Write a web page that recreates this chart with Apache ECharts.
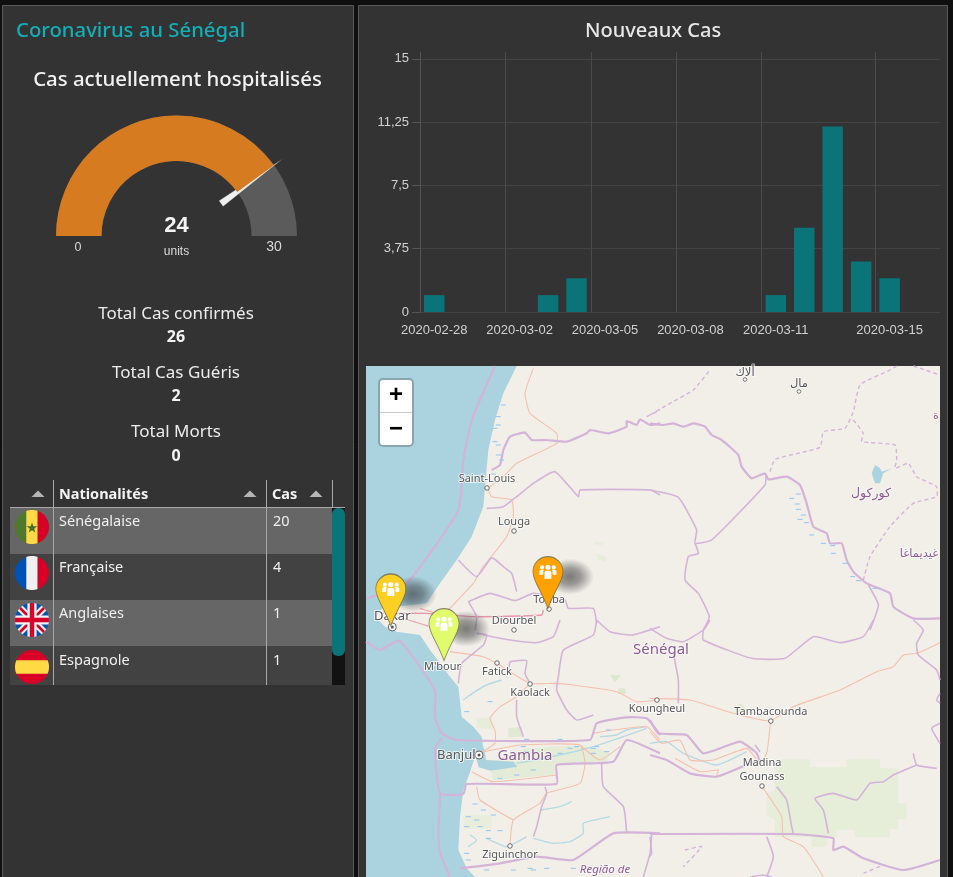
<!DOCTYPE html>
<html><head><meta charset="utf-8">
<style>html,body{margin:0;padding:0;background:#0f0f0f;overflow:hidden}#c{width:953px;height:877px}</style>
<script src="https://cdn.jsdelivr.net/npm/echarts@6/dist/echarts.min.js"></script>
</head><body><div id="c"></div>
<script>
// ---------- data ----------
const dates = ['2020-02-28','2020-02-29','2020-03-01','2020-03-02','2020-03-03','2020-03-04','2020-03-05','2020-03-06','2020-03-07','2020-03-08','2020-03-09','2020-03-10','2020-03-11','2020-03-12','2020-03-13','2020-03-14','2020-03-15','2020-03-16'];
const newCases = [1,0,0,0,1,2,0,0,0,0,0,0,1,5,11,3,2,0];
const yTicks = [0,3.75,7.5,11.25,15];
const xLabelIdx = [0,3,6,9,12,16];
const gaugeValue = 24, gaugeMax = 30;
const totals = [['Total Cas confirmés','26'],['Total Cas Guéris','2'],['Total Morts','0']];
const nationalities = ['Sénégalaise','Française','Anglaises','Espagnole'];
const nationalityCases = ['20','4','1','1'];
const cityNames = ['Saint-Louis','Louga','Touba','Dakar','Diourbel','Fatick','Kaolack','Koungheul','Tambacounda','Banjul','Madina\nGounass','Ziguinchor'];
const cityLon = [-16.497,-16.228,-15.879,-17.44,-16.228,-16.397,-16.068,-14.804,-13.67,-16.576,-13.758,-16.268];
const cityLat = [16.053,15.631,14.866,14.69,14.661,14.337,14.131,13.974,13.768,13.435,13.131,12.543];
const cityLabelPos = ['top','top','top','top','top','bottom','bottom','bottom','top','left','top','bottom'];
const capitals = ['Dakar','Banjul'];
const pinLon = [-17.455,-16.925,-15.89];
const pinLat = [14.70,14.36,14.87];
const pinColors = ['#fdcf22','#e0fb6c','#ffa200'];

// ---------- helpers ----------
const UI = '"Noto Sans","Open Sans",sans-serif';
const g = [];
function txt(x,y,s,size,fill,align,weight,font,extra){
  g.push(Object.assign({type:'text',silent:true,z:5,style:{x,y,text:s,fontSize:size,fill,align:align||'left',verticalAlign:'middle',fontWeight:weight||'normal',fontFamily:font||UI}},extra||{}));
}
function rect(x,y,w,h,fill,z,r,stroke,lw){
  g.push({type:'rect',silent:true,z:z,shape:{x,y,width:w,height:h,r:r||0},style:{fill,stroke:stroke||null,lineWidth:lw||0}});
}
function line(x1,y1,x2,y2,c,z,lw){
  g.push({type:'line',silent:true,z:z||3,shape:{x1,y1,x2,y2},style:{stroke:c,lineWidth:lw||1}});
}
function poly(points,fill,z){g.push({type:'polygon',silent:true,z:z,shape:{points},style:{fill}});}
function circPts(cx,cy,r){const a=[];for(let i=0;i<72;i++){const t=i/72*2*Math.PI;a.push([cx+r*Math.cos(t),cy+r*Math.sin(t)]);}return a;}
function clip(subject,conv){
  let out=subject;
  let area=0;for(let i=0;i<conv.length;i++){const p=conv[i],q=conv[(i+1)%conv.length];area+=p[0]*q[1]-q[0]*p[1];}
  const sgn=area>0?1:-1;
  for(let i=0;i<conv.length;i++){
    const a=conv[i],b=conv[(i+1)%conv.length];const input=out;out=[];
    const side=p=>sgn*((b[0]-a[0])*(p[1]-a[1])-(b[1]-a[1])*(p[0]-a[0]));
    for(let j=0;j<input.length;j++){
      const c=input[j],d=input[(j+1)%input.length];const sc=side(c),sd=side(d);
      if(sc>=0)out.push(c);
      if((sc>=0)!==(sd>=0)){const t=sc/(sc-sd);out.push([c[0]+t*(d[0]-c[0]),c[1]+t*(d[1]-c[1])]);}
    }
  }
  return out;
}
function piece(cx,cy,r,localPts,fill){
  const c=clip(circPts(cx,cy,r),localPts.map(p=>[cx+p[0],cy+p[1]]));
  if(c.length>2)poly(c,fill,4);
}
const box=(a,b,c,d)=>[[a,c],[b,c],[b,d],[a,d]];
function diag(w,flip){const s=flip?-1:1;const k=w*0.707;return [[-20*s-k*s,-20+k],[-20*s+k*s,-20-k],[20*s+k*s,20-k],[20*s-k*s,20+k]];}

// ---------- panels ----------
rect(2.5,5.5,351,890,'#333333',-10,0,'#5a5a5a',1);
rect(358.5,5.5,589,890,'#333333',-10,0,'#5a5a5a',1);

txt(16,31,'Coronavirus au Sénégal',20.3,'#13aeb6','left','500');
txt(177.5,80.5,'Cas actuellement hospitalisés',20.4,'#f2f2f2','center','500');
txt(653,31,'Nouveaux Cas',20,'#e8e8e8','center','500');
txt(78,248,'0',12.5,'#d8d8d8','center','normal','"Liberation Sans"');
txt(274,247,'30',14,'#d8d8d8','center','normal','"Liberation Sans"');
const totalY=[[314,337],[373,396],[432,456]];
totals.forEach((t,i)=>{
  txt(176,totalY[i][0],t[0],17,'#ececec','center');
  txt(176,totalY[i][1],t[1],16,'#f4f4f4','center','bold');
});

// ---------- table ----------
const rowTop=[508,554,600,646], rowH=[46,46,46,39], rowTxt=[522,568,614,661], rowFill=['#666666','#424242','#666666','#424242'];
rowTop.forEach((y,i)=>{
  rect(10,y,322,rowH[i],rowFill[i],1);
  txt(59,rowTxt[i],nationalities[i],14.5,'#f0f0f0');
  txt(273,rowTxt[i],nationalityCases[i],14.5,'#f0f0f0');
});
rect(332,508,13,177,'#121212',1);
rect(332,508,13,148,'#0b7479',2,6);
line(10,507.5,345,507.5,'#a8a8a8',3);
line(53.5,480,53.5,685,'#a8a8a8',3);
line(266.5,480,266.5,685,'#a8a8a8',3);
line(332.5,480,332.5,507,'#a8a8a8',3);
txt(59,495,'Nationalités',14.5,'#f4f4f4','left','bold');
txt(272,495,'Cas',14.5,'#f4f4f4','left','bold');
[38,250,316].forEach(x=>poly([[x-6.5,497],[x+6.5,497],[x,490.5]],'#b5b5b5',4));

// flags
(function(){
  const R=17,X=32;
  let y=527;
  piece(X,y,R,box(-20,-5.7,-20,20),'#4f7a2d');
  piece(X,y,R,box(-5.7,5.7,-20,20),'#ffda44');
  piece(X,y,R,box(5.7,20,-20,20),'#d80027');
  const star=[];for(let i=0;i<10;i++){const r=i%2?2.3:5.6,t=-Math.PI/2+i*Math.PI/5;star.push([X+r*Math.cos(t),y+1+r*Math.sin(t)]);}
  poly(star,'#496e2d',5);
  y=573;
  piece(X,y,R,box(-20,-5.7,-20,20),'#0052b4');
  piece(X,y,R,box(-5.7,5.7,-20,20),'#f0f0f0');
  piece(X,y,R,box(5.7,20,-20,20),'#d80027');
  y=620;
  piece(X,y,R,box(-20,20,-20,20),'#0052b4');
  piece(X,y,R,diag(3.4,false),'#f0f0f0');
  piece(X,y,R,diag(3.4,true),'#f0f0f0');
  piece(X,y,R,diag(1.3,false),'#d80027');
  piece(X,y,R,diag(1.3,true),'#d80027');
  piece(X,y,R,box(-20,20,-4.6,4.6),'#f0f0f0');
  piece(X,y,R,box(-4.6,4.6,-20,20),'#f0f0f0');
  piece(X,y,R,box(-20,20,-2.2,2.2),'#d80027');
  piece(X,y,R,box(-2.2,2.2,-20,20),'#d80027');
  y=667;
  piece(X,y,R,box(-20,20,-20,20),'#d80027');
  piece(X,y,R,box(-20,20,-6.7,6.7),'#ffda44');
})();

// ---------- base map (background drawing) ----------
const T4=[360,360],T5=[650,360],T6=[360,620],T7=[650,620];
function P(t,f){const a=[];for(let i=0;i<f.length;i+=2)a.push([t[0]+f[i]/3,t[1]+f[i+1]/3]);return a;}
function clampMap(a){return a.map(p=>[Math.min(940,Math.max(366,p[0])),Math.min(877,Math.max(366,p[1]))]);}
function L(t,f,c,w,dash,z){g.push({type:'polyline',silent:true,z:z||-6,shape:{points:clampMap(P(t,f)),smooth:0.15},style:{stroke:c,lineWidth:w,fill:null,lineDash:dash||null,lineJoin:'round'}});}
rect(366,366,574,511,'#f2efe9',-9);
const sea=[[366,366]].concat(P(T4,[470,18,430,100,405,180,385,270,375,380,370,440,335,530,290,600,240,670,200,730,130,738,70,742,45,770]),P(T6,[75,20,110,35,180,45,210,90,270,170,295,200,305,290,340,320,365,350,370,385,345,410,335,440,325,470,310,510,300,590,295,690,320,745,345,771]),[[366,877]]);
poly(sea,'#aad3df',-8);
poly(P(T6,[345,400,372,382,378,420,460,425,472,440,392,452,356,442]),'#aad3df',-7);
poly(P(T5,[665,340,675,315,690,325,695,335,725,325,700,340,690,370,675,370]),'#aad3df',-7);
const GR='#e6edd9';
poly(P(T7,[375,418,480,418,480,440,590,440,590,418,690,418,690,445,745,445,745,550,770,550,770,598,745,598,745,628,720,628,720,652,615,652,615,630,560,630,560,652,530,652,530,680,485,680,485,650,375,650,375,600,350,585,350,520,375,510]),GR,-8);
poly(P(T6,[385,430,500,385,660,375,750,395,740,425,590,430,580,465,400,480]),'#e4ebd7',-8);
poly(P(T6,[750,165,782,165,765,188]),'#dde9cd',-8);
poly(P(T6,[775,205,797,205,797,222,775,222]),'#dde9cd',-8);
poly(P(T6,[445,325,485,320,488,350,445,352]),'#e0eAd2',-8);
poly(P(T6,[350,295,395,292,400,330,350,322]),'#e7edda',-8);
poly(P(T6,[310,585,395,585,395,625,310,628]),'#e9eedc',-8);
poly(P(T7,[270,250,292,270,252,285]),'#dde9cd',-8);
poly(P(T4,[702,545,730,548,725,556,704,553]),'#e6eeda',-8);
poly(P(T4,[705,578,735,590,738,606,715,600]),'#e6eeda',-8);
const RV='#b6dae3';
[[T6,[310,240,345,215,380,195,425,180]],[T6,[470,430,600,405,700,380,790,350,860,325]],[T6,[720,350,770,345,800,330,860,320]],[T6,[520,655,580,670,630,665,670,640,670,610,750,590]],[T6,[540,570,600,560,635,545]],[T6,[380,655,440,680,500,650]],[T6,[330,645,350,660,325,680]],[T7,[0,370,50,365,100,400,200,435,290,395]]].forEach(r=>L(r[0],r[1],RV,1.4));
const RD='#f6bfac';
[[T4,[520,25,495,100,510,160,590,220,590,250,470,310,430,350,385,385,395,410,455,420,460,470,440,530,370,620,340,670,265,750]],
 [T6,[270,95,370,110,410,130,510,190,580,190,640,195,770,215,830,245,900,240]],
 [T6,[510,190,470,230,420,260,390,295,405,330,405,370,370,395,480,375,660,375,675,430,660,490,560,520,540,550,460,600,450,680]],
 [T6,[350,500,360,540,460,600]],[T6,[335,455,400,485,590,465]],
 [T6,[700,340,760,330,860,320,900,360]],[T6,[660,375,720,420,780,380]],
 [T7,[0,235,120,240,250,280,360,303,430,260,570,210,680,155,730,140,760,105,800,100,870,68]],
 [T7,[362,303,350,400,330,430]],[T7,[335,498,395,590,400,650,460,680,520,770]],
 [T7,[0,335,35,370,90,360,120,420,190,420,290,385,320,420]],[T7,[75,415,150,455,205,450,200,465]]
].forEach(r=>L(r[0],r[1],RD,1.1));
L(T4,[60,760,200,760,340,770,545,765,550,750],'#e995a8',1.4);
L(T4,[180,745,260,770],'#f3a9b5',1.2);
L(T4,[130,775,210,800],'#f3a9b5',1.2);
const BD='#d4b3d8';
[[T4,[395,330,420,315,430,270,450,230,495,218,515,240,560,240,620,245,680,220,690,210,745,220,800,200,800,183,830,195,840,178,870,195,900,190]],
 [T5,[0,190,40,195,70,190,100,200,130,190,165,200,185,225,215,240,265,285,275,320,305,355,345,340,355,358,410,350,450,375,470,430,490,500,530,520,540,550,575,550,590,600,610,635,650,670,720,700,730,740,790,775,870,775]],
 [T4,[405,18,335,180,310,300,295,450,140,670,20,715]],
 [T6,[18,65,60,90,118,62,225,210,225,290,245,340,290,360,690,360,710,310,800,292,860,295,900,345]],
 [T6,[245,355,225,385,240,520,310,522,320,492,590,492,590,435,760,425,800,360,900,400]],
 [T6,[240,525,235,640,240,700,270,771]],
 [T6,[300,745,420,730,530,710,640,720,760,640,900,640]],
 [T7,[0,642,430,642,550,655,550,690,580,680,640,715,760,750,870,720]],
 [T7,[0,300,25,340,110,345,160,400,270,365,320,400,330,430]],
 [T7,[0,405,50,420,120,460,200,470,300,430,335,420]]
].forEach(r=>L(r[0],r[1],BD,2.2));
[[T4,[380,445,430,440,470,410,520,370,585,335,655,410,660,390,870,390,900,405]],
 [T5,[0,390,85,412,140,510,135,550,185,540,345,375,348,345]],
 [T5,[135,550,145,580,115,590,105,660,145,700,178,770,160,810]],
 [T5,[655,675,685,735,660,810]],
 [T4,[295,600,350,650,395,593,430,620,455,640,470,695]],
 [T4,[325,725,390,700,465,722,520,700,615,720,625,745,700,745,710,790]],
 [T4,[325,725,350,770,345,810]],
 [T6,[350,40,380,45,370,75,305,130,295,190]],
 [T6,[370,45,450,60,530,68,580,50,600,0]],
 [T6,[710,0,700,45,610,90,595,170,590,210,620,270,650,300,700,285]],
 [T6,[710,0,750,35,815,45,900,20]],
 [T6,[450,125,500,122,495,160,510,190]],[T6,[450,125,440,170]],
 [T6,[470,240,470,290,490,350]],
 [T6,[555,500,560,520,545,560,530,620,520,650]],
 [T6,[725,430,730,500,790,560,800,640]],
 [T6,[875,645,870,700,850,771]],
 [T7,[0,25,50,55,100,65,160,30,180,0]],
 [T7,[160,30,160,60,305,115,405,115,490,50,570,68,640,50,670,0]],
 [T7,[70,100,85,180,85,250]],
 [T7,[790,0,820,30,800,70,805,105,860,150,870,180]],
 [T7,[870,220,860,240,870,250]],[T7,[870,310,845,325,870,370]],
 [T7,[315,375,330,395]],
 [T7,[860,445,800,435,790,400]],[T7,[800,435,730,465,700,485,660,490,620,540,550,520,495,535,520,570,535,640]],
 [T7,[380,500,410,540,425,620,430,640]],
 [T7,[350,650,370,710,350,771]],[T7,[0,650,5,700,0,710]],
 [T7,[300,771,340,765,365,771]]
].forEach(r=>L(r[0],r[1],BD,1.6));
[[T5,[0,165,60,130,130,90,180,30]],
 [T5,[360,335,375,298,510,262,520,215,585,205,610,155,630,75,720,30,740,18]],
 [T5,[790,18,870,45]],
 [T5,[610,180,640,220,635,245,735,255,740,300,735,325,775,310,800,350,860,380,860,410,790,430,720,500,660,590,640,660]],
 [T4,[860,170,900,150]],
 [T7,[105,690,155,680,100,740]],[T7,[640,760,700,735]]
].forEach(r=>L(r[0],r[1],BD,1.4,[4,3]));
const WD='#8cc4f2';
[[T4,[430,135,415,170,415,195,405,205,405,245,415,255,415,285,425,300,400,342]],
 [T5,[425,415,445,402,442,432,445,448,460,465,450,478,470,488,485,525,520,550,548,557,550,580,585,610,608,650,625,662,675,685]],
 [T6,[345,552,370,570,325,590,350,600,320,620,360,620,385,632,420,632,400,585,385,655,320,700,325,720,380,750,460,750,510,745,640,745,390,245,320,275,500,358,600,358,630,385,700,385,740,395,600,400,500,395,700,400,520,450,470,465,420,475,710,380,745,330,650,380,490,380,520,750,560,745]]
].forEach(r=>{const a=P(r[0],r[1]);a.forEach(p=>line(p[0]-2.5,p[1],p[0]+2.5,p[1],WD,-5,1));});
function mapTxt(x,y,s,size,fill,style,font){
  g.push({type:'text',silent:true,z:-3,style:{x,y,text:s,fontSize:size,fill,align:'center',verticalAlign:'middle',fontStyle:style||'normal',fontFamily:font||'"Noto Sans","DejaVu Sans",sans-serif',stroke:'rgba(255,255,255,0.55)',lineWidth:2}});
}
mapTxt(661,650,'Sénégal',15,'#8c5a93');
mapTxt(525,756,'Gambia',15,'#8c5a93');
mapTxt(605,870,'Região de',11.5,'#8c5a93','italic');
mapTxt(871,494,'كوركول',12.5,'#8c5a93','normal','"DejaVu Sans"');
mapTxt(919,554,'غيديماغا',11.5,'#8c5a93','normal','"DejaVu Sans"');
mapTxt(936,416,'ة',11,'#8c5a93','normal','"DejaVu Sans"');
mapTxt(745,373,'ألاك',11.5,'#555','normal','"DejaVu Sans"');
mapTxt(799,384,'مال',11.5,'#555','normal','"DejaVu Sans"');
[[745,379.5],[799,391.5]].forEach(c=>g.push({type:'circle',silent:true,z:-3,shape:{cx:c[0],cy:c[1],r:1.8},style:{fill:'#fff',stroke:'#777',lineWidth:1}}));

rect(379,379,34,67,'#ffffff',10,4,'#8aa6ad',2);
line(380,412.5,412,412.5,'#cccccc',11);
txt(396,395,'+',24,'#000','center','bold','"Liberation Sans"',{z:11});
txt(396,429,'−',24,'#000','center','bold','"Liberation Sans"',{z:11});

// ---------- options ----------
const PIN='path://M15 0C6.7 0 0 6.7 0 15C0 24 9.5 36 15 52C20.5 36 30 24 30 15C30 6.7 23.3 0 15 0Z';
const PEOPLE='path://M8.5 0a2.6 2.6 0 1 1 -.01 0ZM2.6 .6a2.1 2.1 0 1 1 -.01 0ZM14.4 .6a2.1 2.1 0 1 1 -.01 0ZM0 6.5Q0 5 2.6 5H4.6Q3.8 6 3.8 8V10H0ZM17 6.5Q17 5 14.4 5H12.4Q13.2 6 13.2 8V10H17ZM5 8Q5 6 7.2 6H9.8Q12 6 12 8V14H5Z';
const cityData = cityNames.map((n,i)=>{
  const cap=capitals.includes(n);
  return {value:[cityLon[i],cityLat[i]],name:n,symbolSize:cap?8:4.5,label:{position:cityLabelPos[i],fontSize:cap?13:11}};
});
cityData.push({value:[-16.94,14.39],name:"M'bour",symbolSize:0,label:{position:'bottom',distance:2}});
const capitalDots = capitals.map(n=>{const i=cityNames.indexOf(n);return [cityLon[i],cityLat[i]];});
const pins = pinLon.map((v,i)=>[v,pinLat[i]]);

const option = {
  animation:false,
  backgroundColor:'transparent',
  graphic:g,
  grid:[
    {left:420,top:52,width:520,height:260,containLabel:false},
    {left:366,top:366,width:574,height:511,containLabel:false}
  ],
  xAxis:[
    {type:'value',gridIndex:0,min:-0.5,max:17.77,
     axisLine:{show:false},
     axisTick:{show:false,customValues:xLabelIdx.map(i=>i-0.5)},
     splitLine:{show:true,lineStyle:{color:'#4b4b4b',width:1}},
     axisLabel:{customValues:xLabelIdx,formatter:v=>dates[v],color:'#d2d2d2',fontSize:13,fontFamily:'"Liberation Sans"',margin:12,showMinLabel:true,showMaxLabel:true,hideOverlap:false}},
    {type:'value',gridIndex:1,min:-17.702,max:-11.985,show:false,splitLine:{show:false}}
  ],
  yAxis:[
    {type:'value',gridIndex:0,min:0,max:15.41,
     axisLine:{show:true,onZero:false,lineStyle:{color:'#555'}},
     axisTick:{show:true,length:8,lineStyle:{color:'#555'},customValues:yTicks},
     splitLine:{show:true,lineStyle:{color:'#444444',width:1.2}},
     axisLabel:{customValues:yTicks,formatter:v=>String(v).replace('.',','),color:'#d2d2d2',fontSize:13,fontFamily:'"Liberation Sans"',margin:11}},
    {type:'value',gridIndex:1,min:12.239,max:17.249,show:false,splitLine:{show:false}}
  ],
  series:[
    {type:'bar',xAxisIndex:0,yAxisIndex:0,barWidth:20.5,data:newCases.map((v,i)=>[i,v]),itemStyle:{color:'#0a7479'},z:3},
    {type:'gauge',center:[176.5,236],radius:120.5,startAngle:180,endAngle:0,min:0,max:gaugeMax,splitNumber:1,z:4,
     axisLine:{lineStyle:{width:45.5,color:[[1,'#5b5b5b']]}},
     progress:{show:true,width:45.5,itemStyle:{color:'#d67b20'}},
     axisTick:{show:false},splitLine:{show:false},axisLabel:{show:false},
     pointer:{show:true,icon:'triangle',length:76,width:7,offsetCenter:[0,-55],itemStyle:{color:'#f0f0f0',borderColor:'rgba(60,60,60,.5)',borderWidth:.5}},
     anchor:{show:false},
     title:{offsetCenter:[0,16],fontSize:12,color:'#dcdcdc',fontFamily:'"Liberation Sans"'},
     detail:{offsetCenter:[0,-10],fontSize:22,fontWeight:'bold',color:'#f4f4f4',fontFamily:'"Liberation Sans"',formatter:'{value}'},
     data:[{value:gaugeValue,name:'units'}]},
    {type:'scatter',xAxisIndex:1,yAxisIndex:1,data:cityData,symbol:'circle',
     itemStyle:{color:'#ffffff',borderColor:'#666',borderWidth:1,opacity:1},z:3,clip:false,
     label:{show:true,formatter:'{b}',distance:-1,color:'#555',fontSize:11,lineHeight:14,fontFamily:'"Noto Sans"',textBorderColor:'rgba(255,255,255,0.75)',textBorderWidth:2}},
    {type:'scatter',xAxisIndex:1,yAxisIndex:1,data:capitalDots,symbol:'circle',symbolSize:3,z:3,clip:false,itemStyle:{color:'#555',opacity:1}},
    {type:'scatter',xAxisIndex:1,yAxisIndex:1,data:pins,symbol:'circle',symbolSize:[48,36],symbolOffset:[22,-32],clip:false,z:4,
     itemStyle:{opacity:1,color:{type:'radial',x:0.5,y:0.5,r:0.5,colorStops:[{offset:0,color:'rgba(50,50,50,0.62)'},{offset:0.45,color:'rgba(50,50,50,0.45)'},{offset:1,color:'rgba(50,50,50,0)'}]}}},
    {type:'scatter',xAxisIndex:1,yAxisIndex:1,data:pins.map((p,i)=>({value:p,itemStyle:{color:pinColors[i]}})),symbol:PIN,symbolSize:[30,52],symbolOffset:[0,'-50%'],clip:false,z:5,
     itemStyle:{opacity:1,borderColor:'rgba(100,100,70,0.75)',borderWidth:1}},
    {type:'scatter',xAxisIndex:1,yAxisIndex:1,data:pins,symbol:PEOPLE,symbolSize:[17,14],symbolOffset:[0,-37],clip:false,z:6,itemStyle:{color:'#ffffff',opacity:1}}
  ]
};
echarts.init(document.getElementById('c'),null,{renderer:'canvas'}).setOption(option);
</script></body></html>
